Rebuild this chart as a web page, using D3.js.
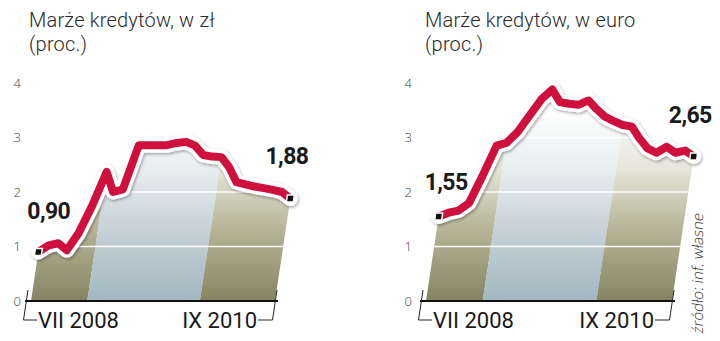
<!DOCTYPE html>
<html>
<head>
<meta charset="utf-8">
<script src="https://cdn.jsdelivr.net/npm/d3@7"></script>
<style>
body { margin: 0; background: #fff; }
svg { display: block; font-family: Roboto, sans-serif; }
</style>
</head>
<body>
<div id="chart"></div>
<script>
var months = ["VII 2008", "VIII 2008", "IX 2008", "X 2008", "XI 2008", "XII 2008",
    "I 2009", "II 2009", "III 2009", "IV 2009", "V 2009", "VI 2009", "VII 2009", "VIII 2009",
    "IX 2009", "X 2009", "XI 2009", "XII 2009",
    "I 2010", "II 2010", "III 2010", "IV 2010", "V 2010", "VI 2010", "VII 2010", "VIII 2010", "IX 2010"];
var plnMargins = [0.90, 1.02, 1.06, 0.93, 1.25, 1.75, 2.37, 2.00, 2.05, 2.86, 2.86, 2.86, 2.86, 2.90,
    2.92, 2.85, 2.68, 2.65, 2.64, 2.45, 2.18, 2.14, 2.10, 2.07, 2.04, 2.00, 1.88];
var eurMargins = [1.55, 1.62, 1.66, 1.80, 2.30, 2.85, 2.90, 3.10, 3.40, 3.70, 3.88, 3.65, 3.62, 3.60,
    3.68, 3.52, 3.38, 3.30, 3.23, 3.20, 2.98, 2.80, 2.72, 2.83, 2.72, 2.76, 2.65];
var yTicks = [0, 1, 2, 3, 4];
var plnTitle = ["Marże kredytów, w zł", "(proc.)"];
var eurTitle = ["Marże kredytów, w euro", "(proc.)"];
var plnLabels = ["0,90", "1,88"];
var eurLabels = ["1,55", "2,65"];
var sourceText = "źródło: inf. własne";

var width = 720, height = 341;
var baseY = 301, topY = 83;
var shear = 0.15; // the whole plot leans to the right

var svg = d3.select("#chart").append("svg")
    .attr("width", width)
    .attr("height", height);
var defs = svg.append("defs");

function addGradient(id, stops) {
    var gr = defs.append("linearGradient")
        .attr("id", id)
        .attr("gradientUnits", "userSpaceOnUse")
        .attr("x1", 0).attr("x2", 0)
        .attr("y1", baseY).attr("y2", 110);
    stops.forEach(function(s) {
        gr.append("stop").attr("offset", s[0]).attr("stop-color", s[1]);
    });
}
addGradient("olive", [[0, "#858462"], [0.35, "#b2b193"], [0.7, "#e6e6da"], [1, "#ffffff"]]);
addGradient("blue", [[0, "#a4b7c1"], [0.35, "#c3d0d6"], [0.7, "#e9eef0"], [1, "#ffffff"]]);

var shadow = defs.append("filter").attr("id", "halo")
    .attr("x", "-10%").attr("y", "-30%").attr("width", "120%").attr("height", "160%");
shadow.append("feDropShadow")
    .attr("dx", 1).attr("dy", 1.5)
    .attr("stdDeviation", 1.8)
    .attr("flood-color", "#000")
    .attr("flood-opacity", 0.35);

var charts = [
    {id: "pln", title: plnTitle, data: plnMargins, labels: plnLabels,
        x0: 31, x1: 275, axisX: 21, titleX: 29,
        startOff: [-11, -33], endOff: [18, -35]},
    {id: "eur", title: eurTitle, data: eurMargins, labels: eurLabels,
        x0: 426, x1: 672, axisX: 412, titleX: 425,
        startOff: [-14, -27], endOff: [18, -34]}
];

function drawChart(c) {
    var g = svg.append("g");
    var n = months.length;
    var x = d3.scaleLinear().domain([0, n - 1]).range([c.x0, c.x1]);
    var y = d3.scaleLinear().domain([0, 4]).range([baseY, topY]);
    var pts = c.data.map(function(v, i) { return {i: i, v: v}; });
    function sx(d) { return x(d.i) + shear * (baseY - y(d.v)); }

    // title
    var title = g.append("text")
        .attr("x", c.titleX)
        .attr("y", 27)
        .style("font-size", "20px")
        .style("font-weight", 300)
        .style("letter-spacing", "0.2px")
        .style("fill", "#2a2a2a");
    title.selectAll("tspan")
        .data(c.title)
        .enter().append("tspan")
        .attr("x", c.titleX)
        .attr("dy", function(d, i) { return i === 0 ? 0 : 24; })
        .text(function(d) { return d; });

    // bands split at January of each year
    var cuts = [0];
    months.forEach(function(m, i) { if (m.indexOf("I ") === 0) cuts.push(i); });
    cuts.push(n - 1);

    var area = d3.area()
        .x0(function(d) { return x(d.i); })
        .x1(sx)
        .y0(baseY)
        .y1(function(d) { return y(d.v); });

    for (var b = 0; b < cuts.length - 1; b++) {
        g.append("path")
            .datum(pts.slice(cuts[b], cuts[b + 1] + 1))
            .attr("d", area)
            .attr("fill", b % 2 === 0 ? "url(#olive)" : "url(#blue)");
    }

    // white grid lines, only inside the area
    defs.append("clipPath").attr("id", "clip-" + c.id)
        .append("path").datum(pts).attr("d", area);
    g.append("g")
        .attr("clip-path", "url(#clip-" + c.id + ")")
        .selectAll("line")
        .data(yTicks.filter(function(t) { return t > 0; }))
        .enter().append("line")
        .attr("x1", c.x0 - 10).attr("x2", c.x1 + 40)
        .attr("y1", function(d) { return y(d); })
        .attr("y2", function(d) { return y(d); })
        .attr("stroke", "#fff")
        .attr("stroke-width", 1.3);

    // y axis labels
    var yAxis = d3.axisLeft(y).tickValues(yTicks).tickFormat(d3.format("d"))
        .tickSize(0).tickPadding(0);
    var ya = g.append("g")
        .attr("transform", "translate(" + c.axisX + ",0)")
        .call(yAxis);
    ya.select(".domain").remove();
    ya.selectAll("text")
        .style("font-family", "'Open Sans', sans-serif")
        .style("font-size", "13px")
        .style("font-weight", 300)
        .style("fill", "#444");

    // base line and brackets
    g.append("line")
        .attr("x1", x(0) - 6).attr("x2", x(n - 1) + 3)
        .attr("y1", baseY).attr("y2", baseY)
        .attr("stroke", "#111")
        .attr("stroke-width", 2);
    var lean = shear * 30;
    g.append("path")
        .attr("d", "M" + (x(0) - 3) + "," + (baseY - 11) + "L" + (x(0) - 3 - lean) + "," + (baseY + 19) +
            "H" + (x(0) + 6))
        .attr("fill", "none").attr("stroke", "#222").attr("stroke-width", 1);
    g.append("path")
        .attr("d", "M" + (x(n - 1) - 17) + "," + (baseY + 19) + "H" + (x(n - 1) + 2 - lean) +
            "L" + (x(n - 1) + 2) + "," + (baseY - 11))
        .attr("fill", "none").attr("stroke", "#222").attr("stroke-width", 1);

    g.append("text")
        .attr("x", x(0) + 7)
        .attr("y", baseY + 27)
        .style("font-size", "22px")
        .style("fill", "#1a1a1a")
        .text(months[0]);
    g.append("text")
        .attr("x", x(n - 1) - 18)
        .attr("y", baseY + 27)
        .attr("text-anchor", "end")
        .style("font-size", "22px")
        .style("fill", "#1a1a1a")
        .text(months[n - 1]);

    // line with white halo
    var line = d3.line().x(sx).y(function(d) { return y(d.v); });
    g.append("path")
        .datum(pts)
        .attr("d", line)
        .attr("fill", "none")
        .attr("stroke", "#fff")
        .attr("stroke-width", 15)
        .attr("stroke-linejoin", "round")
        .attr("stroke-linecap", "round")
        .attr("filter", "url(#halo)");
    g.append("path")
        .datum(pts)
        .attr("d", line)
        .attr("fill", "none")
        .attr("stroke", "#d0103c")
        .attr("stroke-width", 8)
        .attr("stroke-linejoin", "round");

    // end markers and value labels
    var ends = [pts[0], pts[n - 1]];
    g.selectAll(".marker")
        .data(ends)
        .enter().append("rect")
        .attr("class", "marker")
        .attr("x", -3.5).attr("y", -3.5)
        .attr("width", 7).attr("height", 7)
        .attr("transform", function(d) {
            return "translate(" + sx(d) + "," + y(d.v) + ") skewX(-8)";
        })
        .attr("fill", "#111")
        .attr("stroke", "#fff")
        .attr("stroke-width", 1.5);

    g.append("text")
        .attr("x", sx(ends[0]) + c.startOff[0])
        .attr("y", y(ends[0].v) + c.startOff[1])
        .style("font-size", "23px")
        .style("font-weight", 700)
        .style("letter-spacing", "-0.6px")
        .style("fill", "#1a1a1a")
        .text(c.labels[0]);
    g.append("text")
        .attr("x", sx(ends[1]) + c.endOff[0])
        .attr("y", y(ends[1].v) + c.endOff[1])
        .attr("text-anchor", "end")
        .style("font-size", "23px")
        .style("font-weight", 700)
        .style("letter-spacing", "-0.6px")
        .style("fill", "#1a1a1a")
        .text(c.labels[1]);
}

charts.forEach(drawChart);

svg.append("text")
    .attr("transform", "translate(703,334) rotate(-90) skewX(-8)")
    .style("font-family", "'Open Sans', sans-serif")
    .style("font-size", "15px")
    .style("font-weight", 300)
    .style("fill", "#333")
    .text(sourceText);
</script>
</body>
</html>
